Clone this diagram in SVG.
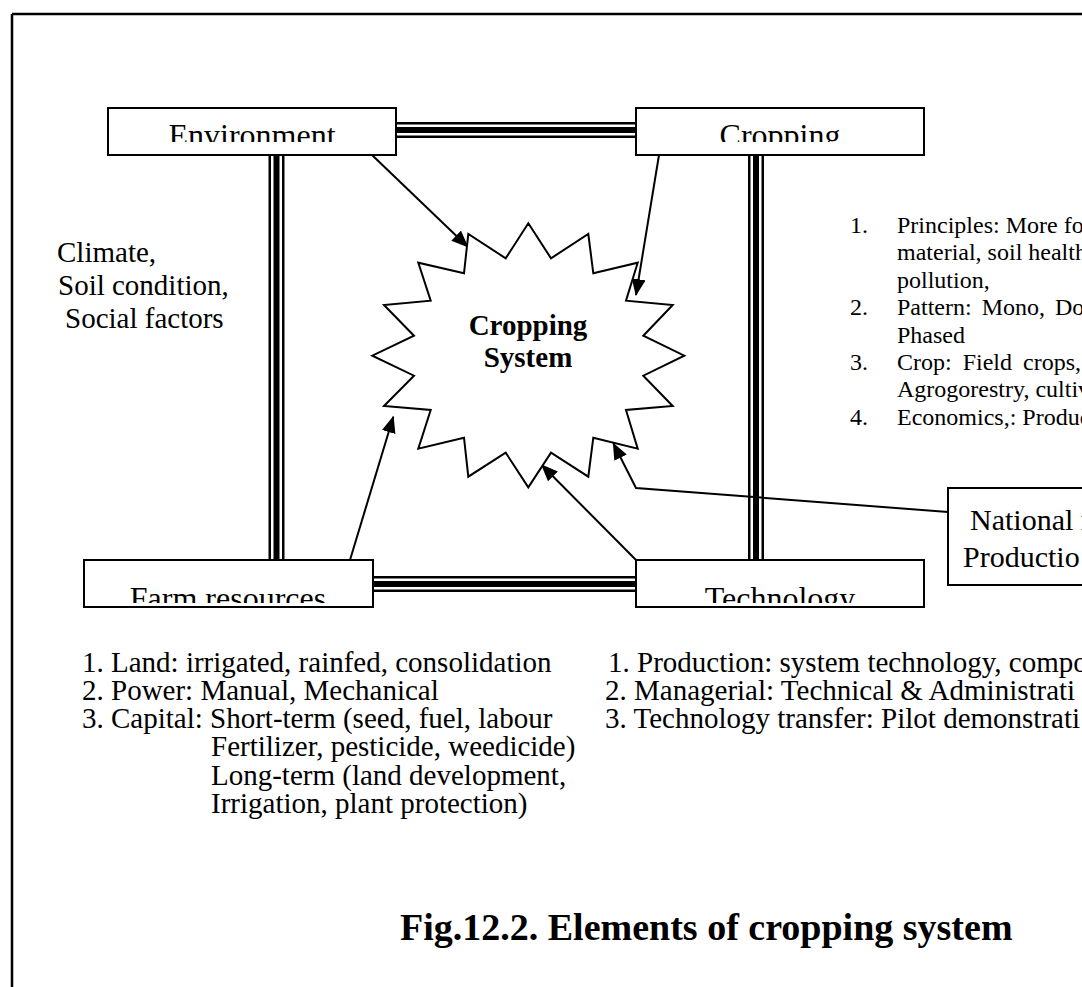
<svg xmlns="http://www.w3.org/2000/svg" width="1082" height="987" viewBox="0 0 1082 987">
<style>
.t{font-family:"Liberation Serif","Times New Roman",serif;fill:#000}
.lbl{font-size:29px}
.box{fill:#fff;stroke:#000;stroke-width:2}
.bt{font-size:32px;text-anchor:middle}
.sm{font-size:24px}
.arr{fill:none;stroke:#000;stroke-width:2}
.tk{stroke:#000;stroke-width:16;fill:none}
.tw{stroke:#fff;stroke-width:11;fill:none}
.tc{stroke:#000;stroke-width:6;fill:none}
</style>
<defs>
<marker id="ah" markerUnits="userSpaceOnUse" markerWidth="18" markerHeight="14" refX="16" refY="7" orient="auto">
<path d="M0,0 L17,7 L0,14 z" fill="#000"/>
</marker>
<clipPath id="cTop"><rect x="100" y="100" width="900" height="42"/></clipPath>
<clipPath id="cBot"><rect x="80" y="560" width="900" height="43"/></clipPath>
</defs>
<rect width="1082" height="987" fill="#fff"/>
<g id="frame">
<line x1="12" y1="14" x2="1082" y2="14" stroke="#000" stroke-width="2.5"/>
<line x1="12" y1="14" x2="12" y2="987" stroke="#000" stroke-width="2.5"/>
</g>
<g id="connectors">
<g id="triple-lines">
<path class="tk" d="M396,130 H636 M276.5,155 V560 M756,155 V560 M373,584 H636"/>
<path class="tw" d="M396,130 H636 M276.5,155 V560 M756,155 V560 M373,584 H636"/>
<path class="tc" d="M396,130 H636 M276.5,155 V560 M756,155 V560 M373,584 H636"/>
</g>
<line class="arr" x1="372" y1="155" x2="467.7" y2="246.7" marker-end="url(#ah)"/>
<line class="arr" x1="659" y1="155" x2="636" y2="295" marker-end="url(#ah)"/>
<line class="arr" x1="350" y1="560" x2="393.3" y2="416.7" marker-end="url(#ah)"/>
<line class="arr" x1="636" y1="560" x2="541.7" y2="465" marker-end="url(#ah)"/>
<polyline class="arr" points="948,512 636,488 613.3,443.3" marker-end="url(#ah)"/>
</g>
<g id="environment">
<rect class="box" x="108" y="108" width="288" height="47"/>
<text class="t bt" x="252" y="146" clip-path="url(#cTop)">Environment</text>
</g>
<g id="cropping">
<rect class="box" x="636" y="108" width="288" height="47"/>
<text class="t bt" x="780" y="146" clip-path="url(#cTop)">Cropping</text>
</g>
<g id="farm-resources">
<rect class="box" x="84" y="560" width="289" height="47"/>
<text class="t bt" x="228" y="609" clip-path="url(#cBot)">Farm resources</text>
</g>
<g id="technology">
<rect class="box" x="636" y="560" width="288" height="47"/>
<text class="t bt" x="780" y="609" clip-path="url(#cBot)">Technology</text>
</g>
<g id="national">
<rect class="box" x="948" y="488" width="200" height="97"/>
<text class="t" font-size="30" x="970" y="530">National r</text>
<text class="t" font-size="30" x="963" y="567">Productio</text>
</g>
<g id="cropping-system">
<polygon fill="#fff" stroke="#000" stroke-width="2" points="528.3,223.3 551,258.3 588.3,234 593.3,273.3 637.7,262.7 626,300.7 672.7,305 643.3,335.7 684.3,355.7 643.3,375.7 672.7,406 626,410 637.7,448.7 593.3,437.7 588.3,476.7 551,452.7 528.3,487.3 505.7,452.7 468.3,476.7 464,437.7 418.3,448.7 430.7,410 384,406 414,375.7 372.3,355.7 414,335.7 384,305 430.7,300.7 418.3,262.7 464,273.3 468.3,234 505.7,258.3"/>
<text class="t" font-size="29" font-weight="bold" text-anchor="middle" x="528" y="335">Cropping</text>
<text class="t" font-size="29" font-weight="bold" text-anchor="middle" x="528" y="367">System</text>
</g>
<g id="environment-notes" class="t lbl">
<text x="57" y="262">Climate,</text>
<text x="58" y="295">Soil condition,</text>
<text x="65" y="328">Social factors</text>
</g>
<g id="cropping-notes" class="t sm">
<text x="850" y="233">1.</text><text x="897" y="233">Principles: More fo</text>
<text x="897" y="260.4">material, soil health</text>
<text x="897" y="287.8">pollution,</text>
<text x="850" y="315.2">2.</text><text x="897" y="315.2" word-spacing="4">Pattern: Mono, Do</text>
<text x="897" y="342.6">Phased</text>
<text x="850" y="370">3.</text><text x="897" y="370" word-spacing="5">Crop: Field crops,</text>
<text x="897" y="397.4">Agrogorestry, cultiv</text>
<text x="850" y="424.8">4.</text><text x="897" y="424.8">Economics,: Produc</text>
</g>
<g id="farm-notes" class="t lbl">
<text x="82" y="671.5">1. Land: irrigated, rainfed, consolidation</text>
<text x="82" y="699.8">2. Power: Manual, Mechanical</text>
<text x="82" y="728.1">3. Capital: Short-term (seed, fuel, labour</text>
<text x="211" y="756.4">Fertilizer, pesticide, weedicide)</text>
<text x="211" y="784.7">Long-term (land development,</text>
<text x="211" y="813">Irrigation, plant protection)</text>
</g>
<g id="technology-notes" class="t lbl">
<text x="608" y="671.5">1. Production: system technology, compo</text>
<text x="605" y="699.8">2. Managerial: Technical &amp; Administrati</text>
<text x="605" y="728.1">3. Technology transfer: Pilot demonstrati</text>
</g>
<g id="title">
<text class="t" font-size="38" font-weight="bold" x="400" y="940">Fig.12.2. Elements of cropping system</text>
</g>
</svg>
